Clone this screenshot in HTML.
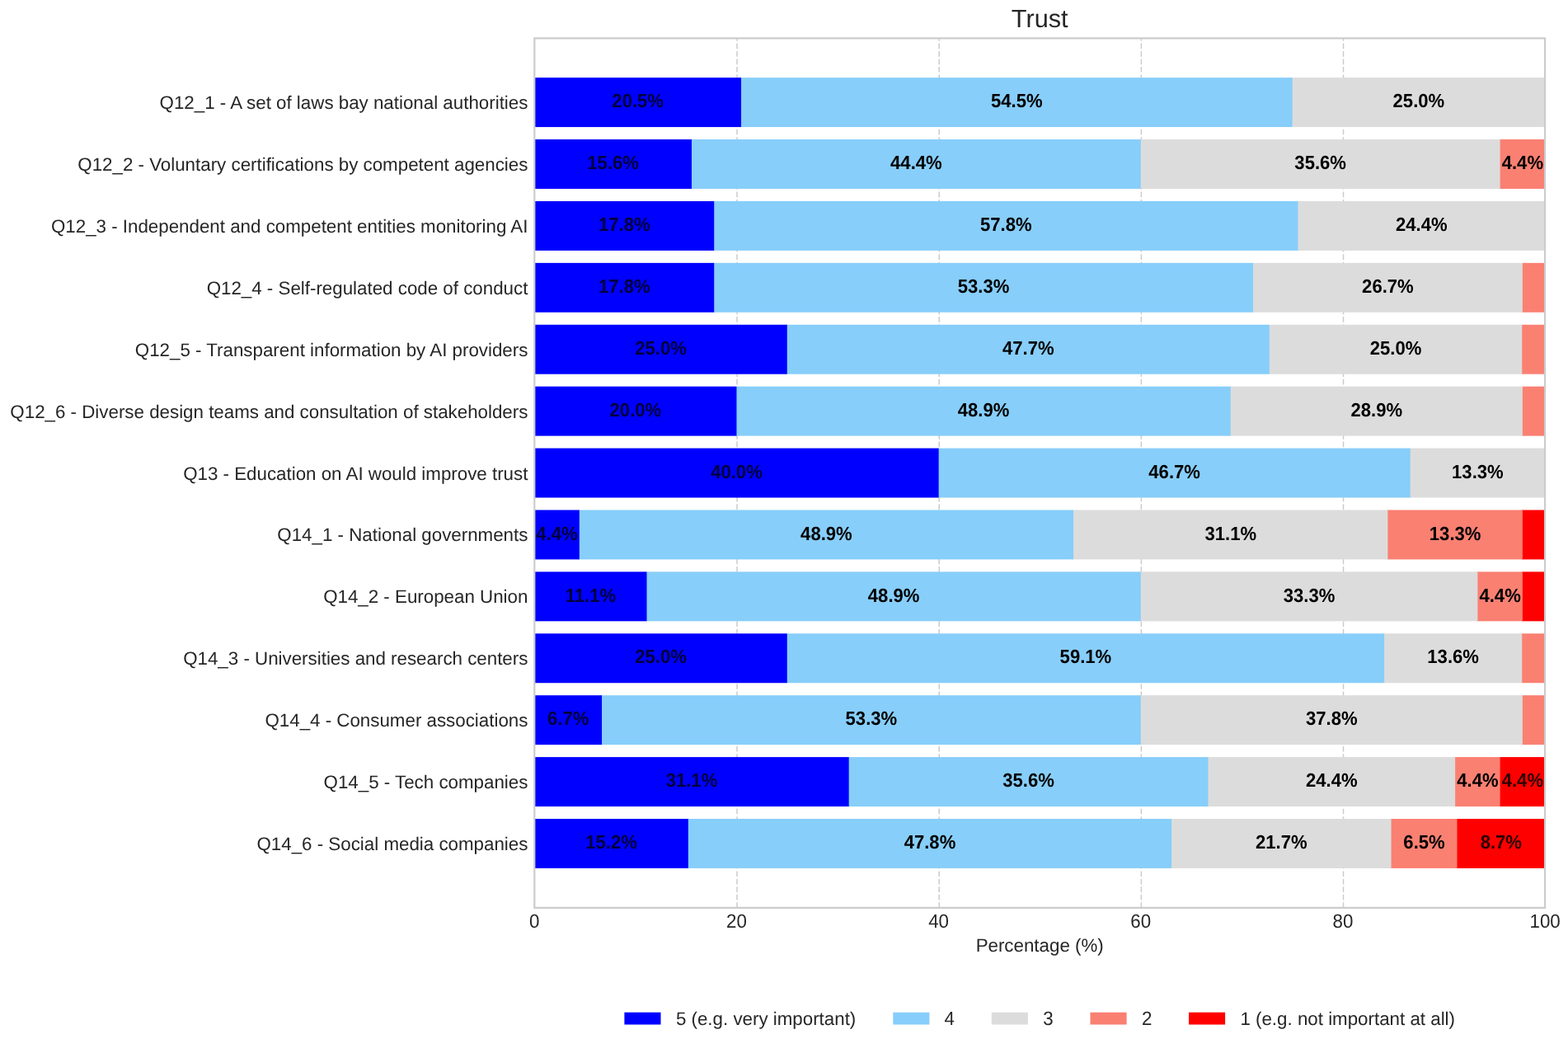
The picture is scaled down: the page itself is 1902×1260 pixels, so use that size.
<!DOCTYPE html>
<html lang="en"><head><meta charset="utf-8"><title>Trust</title>
<style>
html,body{margin:0;padding:0;background:#fff;}
body{width:1902px;height:1260px;overflow:hidden;}
svg{display:block;}
text{font-family:"Liberation Sans",sans-serif;text-rendering:geometricPrecision;}
.t{font-size:22.34px;fill:#262626;}
.b{font-size:22.1px;font-weight:bold;fill:#000;text-anchor:middle;}
.y{text-anchor:end;}
.x{text-anchor:middle;}
.title{font-size:30.7px;fill:#262626;text-anchor:middle;}
</style></head><body>
<svg width="1902" height="1260" viewBox="0 0 1902 1260">
<rect x="0" y="0" width="1902" height="1260" fill="#ffffff"/>
<g stroke="#cbcbcb" stroke-width="1.5" stroke-dasharray="6.6 2.87" fill="none">
<line x1="894.06" y1="1100.9" x2="894.06" y2="46.4"/>
<line x1="1139.22" y1="1100.9" x2="1139.22" y2="46.4"/>
<line x1="1384.38" y1="1100.9" x2="1384.38" y2="46.4"/>
<line x1="1629.54" y1="1100.9" x2="1629.54" y2="46.4"/>
</g>
<g>
<rect x="1566.65" y="94.14" width="307.45" height="59.93" fill="#dcdcdc"/>
<rect x="898.03" y="94.14" width="669.62" height="59.93" fill="#87cefa"/>
<rect x="648.3" y="94.14" width="250.73" height="59.93" fill="#0000ff"/>
<rect x="1818.62" y="169.04" width="55.48" height="59.93" fill="#fa8072"/>
<rect x="1382.78" y="169.04" width="436.84" height="59.93" fill="#dcdcdc"/>
<rect x="837.98" y="169.04" width="545.8" height="59.93" fill="#87cefa"/>
<rect x="648.3" y="169.04" width="190.68" height="59.93" fill="#0000ff"/>
<rect x="1573.46" y="243.95" width="300.64" height="59.93" fill="#dcdcdc"/>
<rect x="865.22" y="243.95" width="709.24" height="59.93" fill="#87cefa"/>
<rect x="648.3" y="243.95" width="217.92" height="59.93" fill="#0000ff"/>
<rect x="1845.86" y="318.86" width="28.24" height="59.93" fill="#fa8072"/>
<rect x="1518.98" y="318.86" width="327.88" height="59.93" fill="#dcdcdc"/>
<rect x="865.22" y="318.86" width="654.76" height="59.93" fill="#87cefa"/>
<rect x="648.3" y="318.86" width="217.92" height="59.93" fill="#0000ff"/>
<rect x="1845.24" y="393.77" width="28.86" height="59.93" fill="#fa8072"/>
<rect x="1538.79" y="393.77" width="307.45" height="59.93" fill="#dcdcdc"/>
<rect x="953.75" y="393.77" width="586.04" height="59.93" fill="#87cefa"/>
<rect x="648.3" y="393.77" width="306.45" height="59.93" fill="#0000ff"/>
<rect x="1845.86" y="468.67" width="28.24" height="59.93" fill="#fa8072"/>
<rect x="1491.74" y="468.67" width="355.12" height="59.93" fill="#dcdcdc"/>
<rect x="892.46" y="468.67" width="600.28" height="59.93" fill="#87cefa"/>
<rect x="648.3" y="468.67" width="245.16" height="59.93" fill="#0000ff"/>
<rect x="1709.66" y="543.58" width="164.44" height="59.93" fill="#dcdcdc"/>
<rect x="1137.62" y="543.58" width="573.04" height="59.93" fill="#87cefa"/>
<rect x="648.3" y="543.58" width="490.32" height="59.93" fill="#0000ff"/>
<rect x="1845.86" y="618.49" width="28.24" height="59.93" fill="#ff0000"/>
<rect x="1682.42" y="618.49" width="164.44" height="59.93" fill="#fa8072"/>
<rect x="1301.06" y="618.49" width="382.36" height="59.93" fill="#dcdcdc"/>
<rect x="701.78" y="618.49" width="600.28" height="59.93" fill="#87cefa"/>
<rect x="648.3" y="618.49" width="54.48" height="59.93" fill="#0000ff"/>
<rect x="1845.86" y="693.39" width="28.24" height="59.93" fill="#ff0000"/>
<rect x="1791.38" y="693.39" width="55.48" height="59.93" fill="#fa8072"/>
<rect x="1382.78" y="693.39" width="409.6" height="59.93" fill="#dcdcdc"/>
<rect x="783.5" y="693.39" width="600.28" height="59.93" fill="#87cefa"/>
<rect x="648.3" y="693.39" width="136.2" height="59.93" fill="#0000ff"/>
<rect x="1845.24" y="768.3" width="28.86" height="59.93" fill="#fa8072"/>
<rect x="1678.09" y="768.3" width="168.15" height="59.93" fill="#dcdcdc"/>
<rect x="953.75" y="768.3" width="725.34" height="59.93" fill="#87cefa"/>
<rect x="648.3" y="768.3" width="306.45" height="59.93" fill="#0000ff"/>
<rect x="1845.86" y="843.21" width="28.24" height="59.93" fill="#fa8072"/>
<rect x="1382.78" y="843.21" width="464.08" height="59.93" fill="#dcdcdc"/>
<rect x="729.02" y="843.21" width="654.76" height="59.93" fill="#87cefa"/>
<rect x="648.3" y="843.21" width="81.72" height="59.93" fill="#0000ff"/>
<rect x="1818.62" y="918.11" width="55.48" height="59.93" fill="#ff0000"/>
<rect x="1764.14" y="918.11" width="55.48" height="59.93" fill="#fa8072"/>
<rect x="1464.5" y="918.11" width="300.64" height="59.93" fill="#dcdcdc"/>
<rect x="1028.66" y="918.11" width="436.84" height="59.93" fill="#87cefa"/>
<rect x="648.3" y="918.11" width="381.36" height="59.93" fill="#0000ff"/>
<rect x="1766.51" y="993.02" width="107.59" height="59.93" fill="#ff0000"/>
<rect x="1686.57" y="993.02" width="80.94" height="59.93" fill="#fa8072"/>
<rect x="1420.09" y="993.02" width="267.48" height="59.93" fill="#dcdcdc"/>
<rect x="833.83" y="993.02" width="587.25" height="59.93" fill="#87cefa"/>
<rect x="648.3" y="993.02" width="186.53" height="59.93" fill="#0000ff"/>
</g>
<rect x="648.3" y="46.4" width="1225.8" height="1054.5" fill="none" stroke="#cccccc" stroke-width="2.2"/>
<g class="b">
<text transform="translate(773.67 130.25) scale(1 1.05)" fill="#00003c">20.5%</text>
<text transform="translate(1233.34 130.25) scale(1 1.05)">54.5%</text>
<text transform="translate(1720.88 130.25) scale(1 1.05)">25.0%</text>
<text transform="translate(743.64 205.16) scale(1 1.05)" fill="#00003c">15.6%</text>
<text transform="translate(1111.38 205.16) scale(1 1.05)">44.4%</text>
<text transform="translate(1601.7 205.16) scale(1 1.05)">35.6%</text>
<text transform="translate(1846.86 205.16) scale(1 1.05)">4.4%</text>
<text transform="translate(757.26 280.06) scale(1 1.05)" fill="#00003c">17.8%</text>
<text transform="translate(1220.34 280.06) scale(1 1.05)">57.8%</text>
<text transform="translate(1724.28 280.06) scale(1 1.05)">24.4%</text>
<text transform="translate(757.26 354.97) scale(1 1.05)" fill="#00003c">17.8%</text>
<text transform="translate(1193.1 354.97) scale(1 1.05)">53.3%</text>
<text transform="translate(1683.42 354.97) scale(1 1.05)">26.7%</text>
<text transform="translate(801.52 429.88) scale(1 1.05)" fill="#00003c">25.0%</text>
<text transform="translate(1247.27 429.88) scale(1 1.05)">47.7%</text>
<text transform="translate(1693.02 429.88) scale(1 1.05)">25.0%</text>
<text transform="translate(770.88 504.78) scale(1 1.05)" fill="#00003c">20.0%</text>
<text transform="translate(1193.1 504.78) scale(1 1.05)">48.9%</text>
<text transform="translate(1669.8 504.78) scale(1 1.05)">28.9%</text>
<text transform="translate(893.46 579.69) scale(1 1.05)" fill="#00003c">40.0%</text>
<text transform="translate(1424.64 579.69) scale(1 1.05)">46.7%</text>
<text transform="translate(1792.38 579.69) scale(1 1.05)">13.3%</text>
<text transform="translate(675.54 654.6) scale(1 1.05)" fill="#00003c">4.4%</text>
<text transform="translate(1002.42 654.6) scale(1 1.05)">48.9%</text>
<text transform="translate(1492.74 654.6) scale(1 1.05)">31.1%</text>
<text transform="translate(1765.14 654.6) scale(1 1.05)">13.3%</text>
<text transform="translate(716.4 729.51) scale(1 1.05)" fill="#00003c">11.1%</text>
<text transform="translate(1084.14 729.51) scale(1 1.05)">48.9%</text>
<text transform="translate(1588.08 729.51) scale(1 1.05)">33.3%</text>
<text transform="translate(1819.62 729.51) scale(1 1.05)">4.4%</text>
<text transform="translate(801.52 804.41) scale(1 1.05)" fill="#00003c">25.0%</text>
<text transform="translate(1316.92 804.41) scale(1 1.05)">59.1%</text>
<text transform="translate(1762.66 804.41) scale(1 1.05)">13.6%</text>
<text transform="translate(689.16 879.32) scale(1 1.05)" fill="#00003c">6.7%</text>
<text transform="translate(1056.9 879.32) scale(1 1.05)">53.3%</text>
<text transform="translate(1615.32 879.32) scale(1 1.05)">37.8%</text>
<text transform="translate(838.98 954.23) scale(1 1.05)" fill="#00003c">31.1%</text>
<text transform="translate(1247.58 954.23) scale(1 1.05)">35.6%</text>
<text transform="translate(1615.32 954.23) scale(1 1.05)">24.4%</text>
<text transform="translate(1792.38 954.23) scale(1 1.05)">4.4%</text>
<text transform="translate(1846.86 954.23) scale(1 1.05)" fill="#2a0000">4.4%</text>
<text transform="translate(741.57 1029.13) scale(1 1.05)" fill="#00003c">15.2%</text>
<text transform="translate(1127.96 1029.13) scale(1 1.05)">47.8%</text>
<text transform="translate(1554.33 1029.13) scale(1 1.05)">21.7%</text>
<text transform="translate(1727.54 1029.13) scale(1 1.05)">6.5%</text>
<text transform="translate(1820.8 1029.13) scale(1 1.05)" fill="#2a0000">8.7%</text>
</g>
<g class="t y">
<text x="640.4" y="132.1">Q12_1 - A set of laws bay national authorities</text>
<text x="640.4" y="207.01">Q12_2 - Voluntary certifications by competent agencies</text>
<text x="640.4" y="281.91">Q12_3 - Independent and competent entities monitoring AI</text>
<text x="640.4" y="356.82">Q12_4 - Self-regulated code of conduct</text>
<text x="640.4" y="431.73">Q12_5 - Transparent information by AI providers</text>
<text x="640.4" y="506.63">Q12_6 - Diverse design teams and consultation of stakeholders</text>
<text x="640.4" y="581.54">Q13 - Education on AI would improve trust</text>
<text x="640.4" y="656.45">Q14_1 - National governments</text>
<text x="640.4" y="731.36">Q14_2 - European Union</text>
<text x="640.4" y="806.26">Q14_3 - Universities and research centers</text>
<text x="640.4" y="881.17">Q14_4 - Consumer associations</text>
<text x="640.4" y="956.08">Q14_5 - Tech companies</text>
<text x="640.4" y="1030.98">Q14_6 - Social media companies</text>
</g>
<g class="t x">
<text transform="translate(648.3 1125.4) scale(1 1.05)">0</text>
<text transform="translate(893.46 1125.4) scale(1 1.05)">20</text>
<text transform="translate(1138.62 1125.4) scale(1 1.05)">40</text>
<text transform="translate(1383.78 1125.4) scale(1 1.05)">60</text>
<text transform="translate(1628.94 1125.4) scale(1 1.05)">80</text>
<text transform="translate(1874.1 1125.4) scale(1 1.05)">100</text>
<text x="1261.2" y="1154">Percentage (%)</text>
</g>
<text class="title" x="1261.2" y="33.2">Trust</text>
<g class="t">
<rect x="757.4" y="1227.7" width="44.1" height="14.8" fill="#0000ff"/>
<text x="819.9" y="1243">5 (e.g. very important)</text>
<rect x="1083.3" y="1227.7" width="44.1" height="14.8" fill="#87cefa"/>
<text transform="translate(1145.6 1243) scale(1 1.05)">4</text>
<rect x="1202.8" y="1227.7" width="44.1" height="14.8" fill="#dcdcdc"/>
<text transform="translate(1265.3 1243) scale(1 1.05)">3</text>
<rect x="1322.5" y="1227.7" width="44.1" height="14.8" fill="#fa8072"/>
<text transform="translate(1384.9 1243) scale(1 1.05)">2</text>
<rect x="1442" y="1227.7" width="44.1" height="14.8" fill="#ff0000"/>
<text x="1504.4" y="1243">1 (e.g. not important at all)</text>
</g>
</svg>
</body></html>
